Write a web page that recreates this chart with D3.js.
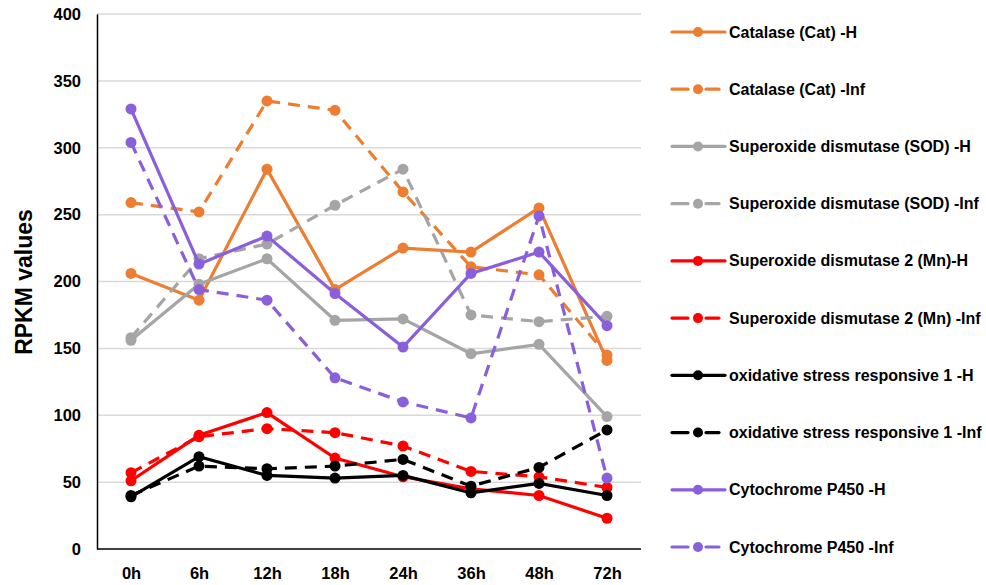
<html>
<head>
<meta charset="utf-8">
<title>RPKM values</title>
<style>
  body { margin: 0; background: #fff; }
  text { font-family: "Liberation Sans", Arial, sans-serif; font-weight: bold; }
</style>
</head>
<body>
<script src="https://cdn.jsdelivr.net/npm/d3@7"></script>
<script>
var width = 986, height = 585;

// data
var timePoints = ["0h", "6h", "12h", "18h", "24h", "36h", "48h", "72h"];
var yTicks = [0, 50, 100, 150, 200, 250, 300, 350, 400];

var seriesNames = [
  "Catalase (Cat) -H",
  "Catalase (Cat) -Inf",
  "Superoxide dismutase (SOD) -H",
  "Superoxide dismutase (SOD) -Inf",
  "Superoxide dismutase 2 (Mn)-H",
  "Superoxide dismutase 2 (Mn) -Inf",
  "oxidative stress responsive 1 -H",
  "oxidative stress responsive 1 -Inf",
  "Cytochrome P450 -H",
  "Cytochrome P450 -Inf"
];
var seriesColors = ["#ed7d31", "#ed7d31", "#a5a5a5", "#a5a5a5", "#ff0000", "#ff0000",
                    "#000000", "#000000", "#8a5fdb", "#8a5fdb"];
var seriesDashed = [false, true, false, true, false, true, false, true, false, true];

var catH    = [206, 186, 284, 194, 225, 222, 255, 141];
var catInf  = [259, 252, 335, 328, 267, 211, 205, 145];
var sodH    = [156, 198, 217, 171, 172, 146, 153, 99];
var sodInf  = [158, 217, 228, 257, 284, 175, 170, 174];
var sod2H   = [51, 85, 102, 68, 54, 45, 40, 23];
var sod2Inf = [57, 84, 90, 87, 77, 58, 54, 46];
var osrH    = [39, 69, 55, 53, 55, 42, 49, 40];
var osrInf  = [40, 62, 60, 62, 67, 47, 61, 89];
var cypH    = [329, 213, 234, 191, 151, 206, 222, 167];
var cypInf  = [304, 194, 186, 128, 110, 98, 249, 53];

var seriesValues = [catH, catInf, sodH, sodInf, sod2H, sod2Inf, osrH, osrInf, cypH, cypInf];

var margin = {left: 97, right: 345, top: 14, bottom: 36};

var svg = d3.select("body").append("svg")
  .attr("width", width)
  .attr("height", height);

var x = d3.scalePoint()
  .domain(timePoints)
  .range([margin.left, width - margin.right])
  .padding(0.5);

var y = d3.scaleLinear()
  .domain([0, 400])
  .range([height - margin.bottom, margin.top]);

// gridlines
svg.append("g")
  .selectAll("line")
  .data(yTicks.slice(1))
  .enter().append("line")
  .attr("x1", margin.left)
  .attr("x2", width - margin.right)
  .attr("y1", function(d) { return y(d); })
  .attr("y2", function(d) { return y(d); })
  .attr("stroke", "#d9d9d9")
  .attr("stroke-width", 1.5);

// y axis
var yAxis = d3.axisLeft(y).tickValues(yTicks).tickSize(0).tickPadding(16);
var gy = svg.append("g")
  .attr("transform", "translate(" + margin.left + ",0)")
  .call(yAxis);
gy.select(".domain").attr("stroke", "#000").attr("stroke-width", 1.5);
gy.selectAll("text").attr("font-size", 16.5).attr("fill", "#000")
  .style("font-family", "'Liberation Sans', Arial, sans-serif").style("font-weight", "bold");

// x axis
var xAxis = d3.axisBottom(x).tickSize(0).tickPadding(18);
var gx = svg.append("g")
  .attr("transform", "translate(0," + y(0) + ")")
  .call(xAxis);
gx.select(".domain").attr("stroke", "#000").attr("stroke-width", 1.5)
  .attr("d", "M" + margin.left + ",0H" + (width - margin.right));
gx.selectAll("text").attr("font-size", 16.5).attr("fill", "#000")
  .style("font-family", "'Liberation Sans', Arial, sans-serif").style("font-weight", "bold");

// y label
svg.append("text")
  .attr("transform", "translate(32,282) rotate(-90)")
  .attr("text-anchor", "middle")
  .attr("font-size", 23)
  .text("RPKM values");

var line = d3.line()
  .x(function(d, i) { return x(timePoints[i]); })
  .y(function(d) { return y(d); });

seriesValues.forEach(function(vals, s) {
  var g = svg.append("g");
  g.append("path")
    .datum(vals)
    .attr("d", line)
    .attr("fill", "none")
    .attr("stroke", seriesColors[s])
    .attr("stroke-width", 3.2)
    .attr("stroke-dasharray", seriesDashed[s] ? "12,8" : null);
  g.selectAll("circle")
    .data(vals)
    .enter().append("circle")
    .attr("cx", function(d, i) { return x(timePoints[i]); })
    .attr("cy", function(d) { return y(d); })
    .attr("r", 5.5)
    .attr("fill", seriesColors[s]);
});

// legend
var legend = svg.append("g");
var rowY = d3.scaleLinear().domain([0, 9]).range([32, 547]);
seriesNames.forEach(function(name, s) {
  var ly = rowY(s);
  var row = legend.append("g");
  if (seriesDashed[s]) {
    row.append("line").attr("x1", 672).attr("x2", 688).attr("y1", ly).attr("y2", ly)
      .attr("stroke", seriesColors[s]).attr("stroke-width", 3.2).attr("stroke-linecap", "round");
    row.append("line").attr("x1", 706).attr("x2", 719).attr("y1", ly).attr("y2", ly)
      .attr("stroke", seriesColors[s]).attr("stroke-width", 3.2).attr("stroke-linecap", "round");
  } else {
    row.append("line").attr("x1", 672).attr("x2", 725).attr("y1", ly).attr("y2", ly)
      .attr("stroke", seriesColors[s]).attr("stroke-width", 3.2).attr("stroke-linecap", "round");
  }
  row.append("circle").attr("cx", 698).attr("cy", ly).attr("r", 5).attr("fill", seriesColors[s]);
  row.append("text")
    .attr("x", 729)
    .attr("y", ly)
    .attr("dy", "0.35em")
    .attr("font-size", 16)
    .attr("fill", "#000")
    .text(name);
});
</script>
</body>
</html>
